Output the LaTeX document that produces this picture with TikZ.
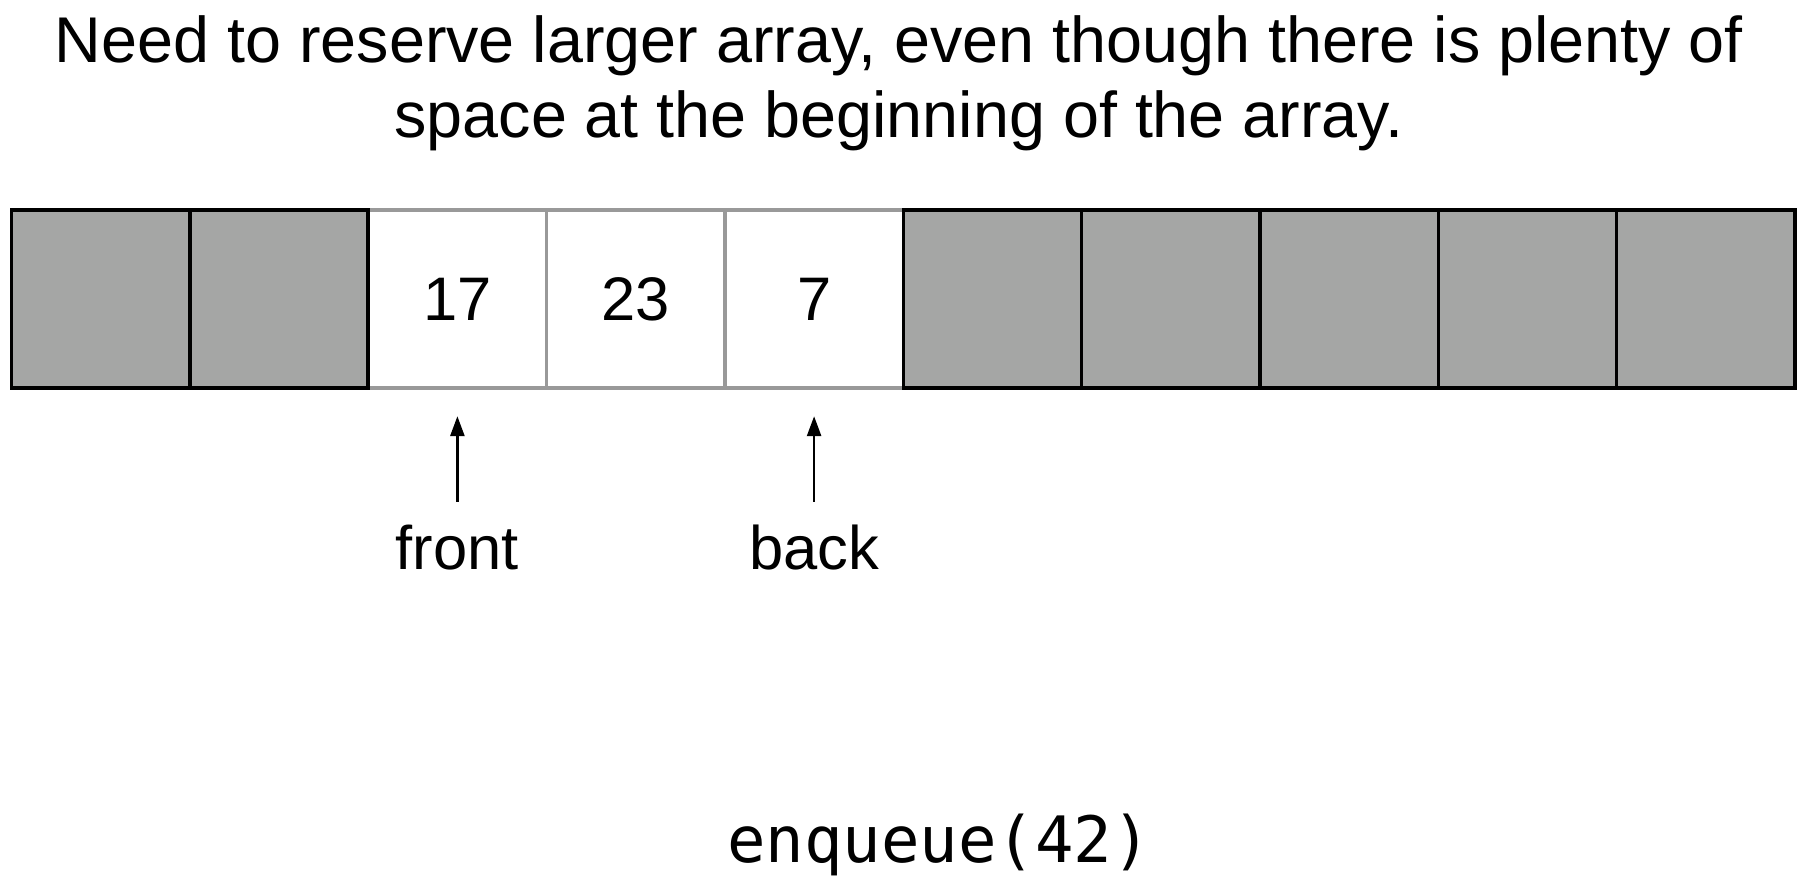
\documentclass[tikz,border=0pt]{standalone}
\usepackage{fontspec}
\setmainfont{Liberation Sans}
\newfontfamily\codefont{DejaVu Sans Mono}
\usetikzlibrary{arrows.meta}

\definecolor{slotgray}{HTML}{A5A6A5}
\definecolor{edgegray}{HTML}{999999}

\begin{document}
\begin{tikzpicture}[node distance=1.7835cm,
    slot/.style={rectangle, minimum width=1.7835cm, minimum height=1.7835cm, inner sep=0pt, outer sep=0pt,
                 font=\fontsize{17.5}{21}\selectfont},
    used/.style={slot, draw=edgegray, line width=1pt, fill=white},
    unused/.style={slot, draw=black, line width=1pt, fill=slotgray},
    label/.style={inner sep=0pt, font=\fontsize{17.5}{21}\selectfont},
    pointer/.style={-{Triangle[length=2mm, width=1.4mm]}, line width=0.75pt,
                    shorten <=0.23cm, shorten >=0.28cm}]

    \useasboundingbox (0,0) rectangle (17.98,8.86);

    % Title
    \node (title) [label, anchor=north, align=center, font=\fontsize{18.4}{21.2}\selectfont] at (8.99,8.71)
        {Need to reserve larger array, even though there is plenty of\\space at the beginning of the array.};

    % Occupied cells
    \node (c3) [used] at (4.574,5.87) {17};
    \node (c4) [used, right of=c3] {23};
    \node (c5) [used, right of=c4] {7};

    % Empty cells
    \node (c2) [unused, left of=c3] {};
    \node (c1) [unused, left of=c2] {};
    \node (c6) [unused, right of=c5] {};
    \node (c7) [unused, right of=c6] {};
    \node (c8) [unused, right of=c7] {};
    \node (c9) [unused, right of=c8] {};
    \node (c10) [unused, right of=c9] {};

    % Pointers
    \node (front) [label, below of=c3, node distance=2.49cm] {front};
    \node (back) [label, below of=c5, node distance=2.49cm] {back};

    \draw[pointer] (front) -- (c3);
    \draw[pointer] (back) -- (c5);

    % Operation
    \node (op) [inner sep=0pt, anchor=base, font=\codefont\fontsize{18.2}{22}\selectfont] at (9.39,0.24) {enqueue(42)};

\end{tikzpicture}
\end{document}
